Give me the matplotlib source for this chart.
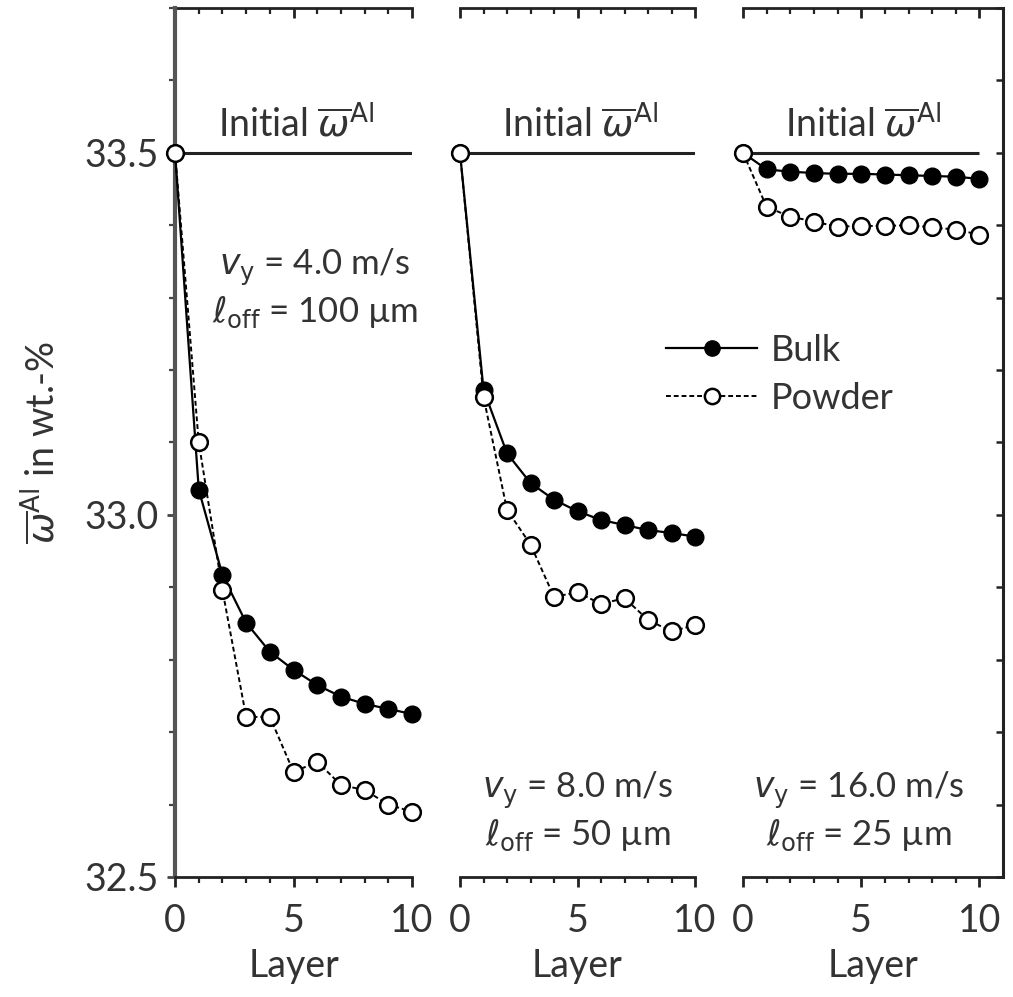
import matplotlib
matplotlib.use('Agg')
import matplotlib.pyplot as plt
from matplotlib.ticker import FixedLocator, NullFormatter
from matplotlib.lines import Line2D
import numpy as np

plt.rcParams['font.family'] = ['Lato', 'DejaVu Sans']
plt.rcParams['mathtext.fontset'] = 'dejavusans'

layers = np.arange(11)

# panel 1: v_y = 4.0 m/s, l_off = 100 um
bulk_1 = [33.5, 33.035, 32.917, 32.851, 32.811, 32.786, 32.765, 32.749, 32.739, 32.732, 32.725]
powder_1 = [33.5, 33.10, 32.896, 32.721, 32.721, 32.645, 32.659, 32.627, 32.620, 32.600, 32.590]

# panel 2: v_y = 8.0 m/s, l_off = 50 um
bulk_2 = [33.5, 33.173, 33.085, 33.044, 33.021, 33.005, 32.993, 32.986, 32.979, 32.975, 32.970]
powder_2 = [33.5, 33.163, 33.007, 32.959, 32.887, 32.893, 32.877, 32.885, 32.855, 32.839, 32.848]

# panel 3: v_y = 16.0 m/s, l_off = 25 um
bulk_3 = [33.5, 33.477, 33.474, 33.472, 33.471, 33.471, 33.470, 33.469, 33.468, 33.467, 33.464]
powder_3 = [33.5, 33.425, 33.412, 33.405, 33.398, 33.399, 33.399, 33.400, 33.397, 33.394, 33.387]

initial_value = 33.5
speeds = ['4.0', '8.0', '16.0']
offsets = ['100', '50', '25']

txt = '#333333'
fs = 27

fig = plt.figure(figsize=(10.13, 9.97), dpi=100)
bottom, height = 0.1204, 0.8716
ax1 = fig.add_axes([0.1728, bottom, 0.234, height])
ax2 = fig.add_axes([0.4541, bottom, 0.232, height])
ax3 = fig.add_axes([0.7335, bottom, 0.2567, height])
axes = [ax1, ax2, ax3]
bulks = [bulk_1, bulk_2, bulk_3]
powders = [powder_1, powder_2, powder_3]

for i, ax in enumerate(axes):
    ax.plot(layers, bulks[i], '-', color='black', lw=1.6, marker='o', ms=12,
            mfc='black', mec='black', clip_on=False, zorder=3)
    ax.plot(layers, powders[i], '--', color='black', lw=1.4, dashes=(2.5, 1.5), marker='o', ms=12,
            mfc='white', mec='black', mew=1.8, clip_on=False, zorder=4)
    ax.hlines(initial_value, 0, 10, color='#222222', lw=2.2, zorder=2)
    ax.text(5.1, initial_value + 0.012, r'Initial $\overline{\omega}^{\mathrm{Al}}$',
            ha='center', va='bottom', fontsize=fs, color=txt)

    ax.set_ylim(32.5, 33.7)
    ax.set_xlim(0, 11 if i == 2 else 10)
    for s in ['left', 'right', 'top', 'bottom']:
        ax.spines[s].set_visible(False)
    ax.spines['bottom'].set_visible(True)
    ax.spines['bottom'].set_linewidth(2)
    ax.spines['bottom'].set_color('#222222')

    ax.xaxis.set_major_locator(FixedLocator([0, 5, 10]))
    ax.xaxis.set_minor_locator(FixedLocator(range(11)))
    ax.tick_params(axis='x', which='major', direction='out', length=7, width=2,
                   labelsize=fs, labelcolor=txt, pad=12, colors='#222222')
    ax.tick_params(axis='x', which='minor', direction='out', length=4, width=1.6, colors='#222222')
    ax.set_xlabel('Layer', fontsize=fs, color=txt, labelpad=6)

    top = ax.secondary_xaxis('top')
    top.spines['top'].set_linewidth(2)
    top.spines['top'].set_color('#222222')
    top.xaxis.set_major_locator(FixedLocator([0, 5, 10]))
    top.xaxis.set_minor_locator(FixedLocator(range(11)))
    top.xaxis.set_major_formatter(NullFormatter())
    top.tick_params(axis='x', which='major', direction='in', length=7, width=2, colors='#222222')
    top.tick_params(axis='x', which='minor', direction='in', length=4, width=1.6, colors='#222222')

    ax.yaxis.set_major_locator(FixedLocator([32.5, 33.0, 33.5]))
    ax.yaxis.set_minor_locator(FixedLocator(np.arange(32.5, 33.71, 0.1)))

# y axis on the left panel
ax1.spines['left'].set_visible(True)
ax1.spines['left'].set_linewidth(3)
ax1.spines['left'].set_color('#555555')
ax1.tick_params(axis='y', which='major', direction='out', length=6, width=2,
                labelsize=fs, labelcolor=txt, colors='#444444', pad=6)
ax1.tick_params(axis='y', which='minor', direction='out', length=4, width=1.6, colors='#444444')
ax1.set_ylabel(r'$\overline{\omega}^{\mathrm{Al}}$ in wt.-%', fontsize=fs, color=txt, labelpad=16)

ax2.tick_params(axis='y', which='both', left=False, right=False, labelleft=False)

ax3.spines['right'].set_visible(True)
ax3.spines['right'].set_linewidth(2.2)
ax3.spines['right'].set_color('#222222')
ax3.tick_params(axis='y', which='both', left=False, right=True, labelleft=False,
                direction='in', length=5, width=1.8, colors='#222222')

# condition labels
cond_pos = [(5.9, 33.341), (5.0, 32.62), (4.9, 32.62)]
for ax, v, l, (cx, cy) in zip(axes, speeds, offsets, cond_pos):
    ax.text(cx, cy, r'$v_{\mathrm{y}}$ = ' + v + ' m/s', ha='center', va='center',
            fontsize=fs - 2, color=txt)
    ax.text(cx, cy - 0.062, r'$\ell_{\mathrm{off}}$ = ' + l + ' \u00b5m', ha='center', va='center',
            fontsize=fs - 2, color=txt)

handles = [Line2D([], [], color='black', lw=1.6, marker='o', ms=11, mfc='black'),
           Line2D([], [], color='black', lw=1.4, ls='--', dashes=(2.5, 1.5), marker='o', ms=11,
                  mfc='white', mew=1.8)]
fig.legend(handles, ['Bulk', 'Powder'], loc='upper left', bbox_to_anchor=(0.64, 0.683),
           frameon=False, fontsize=fs - 1, handlelength=2.5, handletextpad=0.4,
           labelspacing=0.4, borderpad=0, labelcolor=txt)

fig.savefig('out.png', dpi=100)
